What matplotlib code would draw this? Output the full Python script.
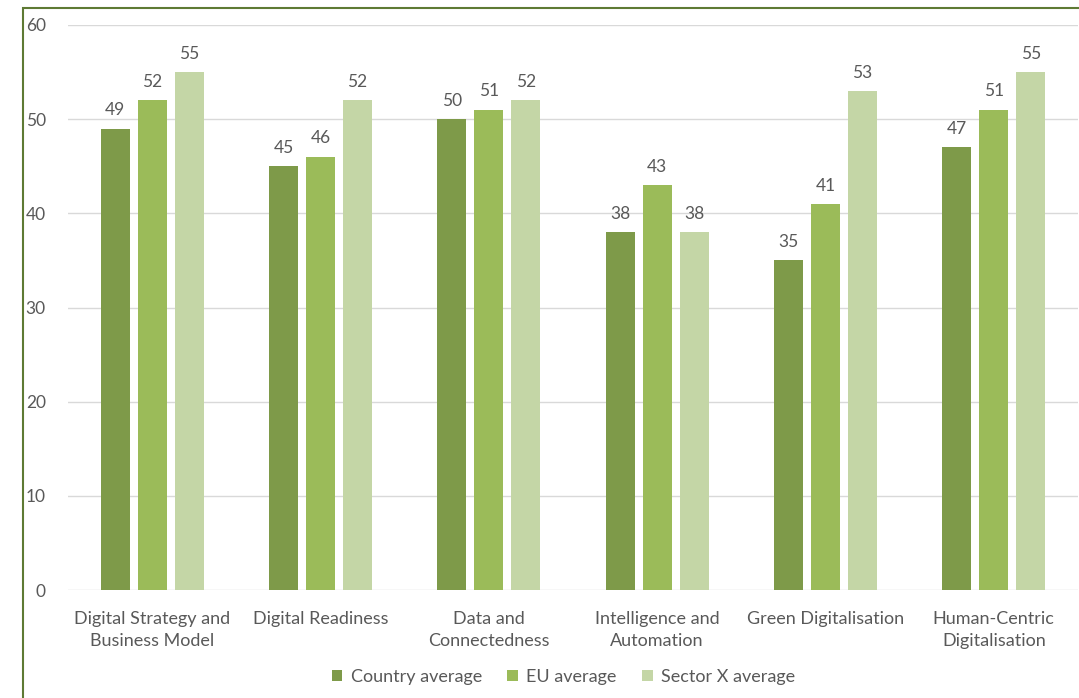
import numpy as np
import matplotlib
matplotlib.use('Agg')
import matplotlib.pyplot as plt
from matplotlib.patches import Rectangle

plt.rcParams['font.family'] = ['Lato', 'DejaVu Sans']

categories = ['Digital Strategy and\nBusiness Model', 'Digital Readiness',
              'Data and\nConnectedness', 'Intelligence and\nAutomation',
              'Green Digitalisation', 'Human-Centric\nDigitalisation']
country = [49, 45, 50, 38, 35, 47]
eu = [52, 46, 51, 43, 41, 51]
sector = [55, 52, 52, 38, 53, 55]
series_names = ['Country average', 'EU average', 'Sector X average']
colors = ['#7E9A49', '#9BBB59', '#C4D6A6']
text_col = '#595959'

fig = plt.figure(figsize=(10.79, 6.98), dpi=100)
ax = fig.add_axes([0.063, 0.1547, 0.936, 0.8095])

x = np.arange(len(categories))
w = 0.172
pitch = 0.22
for k, (vals, name, c) in enumerate(zip([country, eu, sector], series_names, colors)):
    bars = ax.bar(x + (k - 1) * pitch, vals, w, color=c, label=name, zorder=3)
    for b, v in zip(bars, vals):
        ax.text(b.get_x() + b.get_width() / 2, v + 1.1, str(v), ha='center', va='bottom',
                fontsize=12.5, color=text_col)

ax.set_xlim(-0.5, len(categories) - 0.5)
ax.set_ylim(0, 60)
ax.set_yticks(range(0, 61, 10))
ax.yaxis.grid(True, color='#D9D9D9', linewidth=1, zorder=0)
for s in ax.spines.values():
    s.set_visible(False)
ax.tick_params(length=0, labelsize=12.5, colors=text_col)
ax.tick_params(axis='y', pad=16)
ax.tick_params(axis='x', pad=15)
ax.set_xticks(x)
ax.set_xticklabels(categories, linespacing=1.45, fontsize=13)

leg = fig.legend(loc='center', bbox_to_anchor=(0.522, 0.03), ncol=3, frameon=False,
                 fontsize=13, handlelength=0.6, handleheight=0.6, columnspacing=1.4,
                 handletextpad=0.45)
for t in leg.get_texts():
    t.set_color(text_col)

# outer chart border (only top/left visible in the crop)
fig.patches.append(Rectangle((22.5 / 1079, -0.1), 1.2, 1 - 7.5 / 698 + 0.1,
                             transform=fig.transFigure, fill=False,
                             edgecolor='#5E7A34', linewidth=1.5))

fig.savefig('out.png', dpi=100)
